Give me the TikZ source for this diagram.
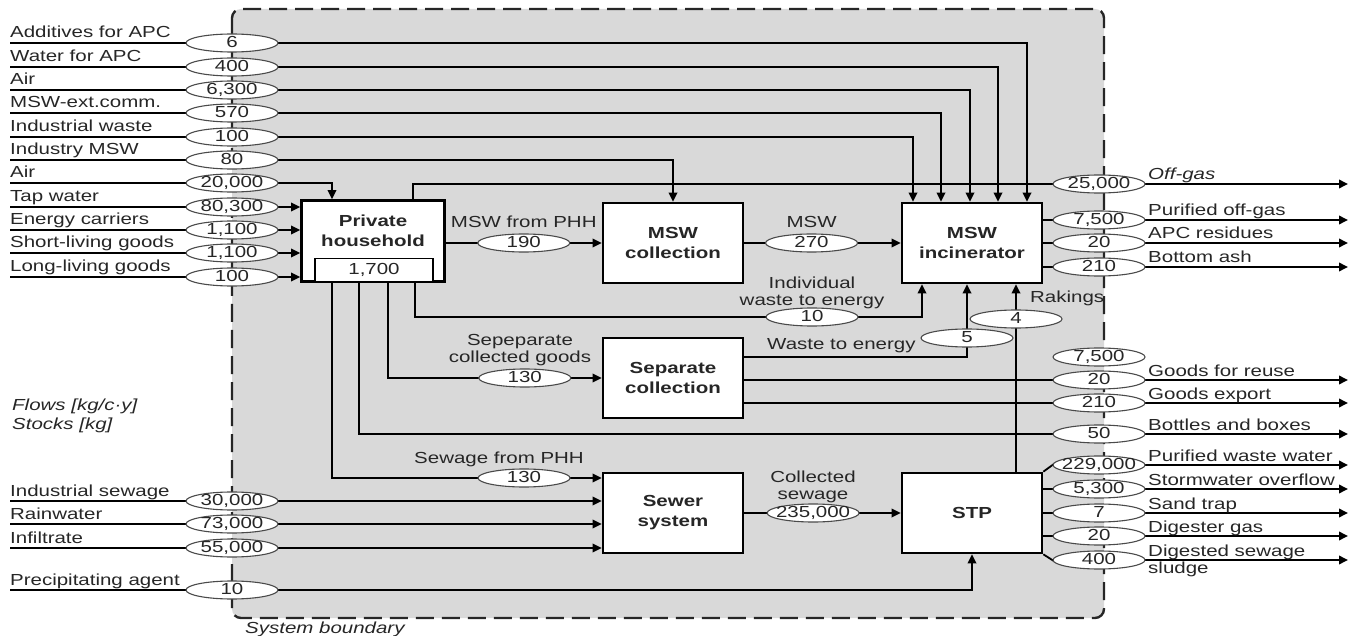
\documentclass[tikz,border=0pt]{standalone}
\usepackage{fontspec}
\setmainfont{Liberation Sans}[FakeStretch=1.28]
\usetikzlibrary{arrows.meta,shapes.geometric}
\definecolor{mfaInk}{HTML}{262626}
\definecolor{mfaFill}{HTML}{D9D9D9}
\definecolor{mfaOval}{HTML}{4A4A4A}
\newcommand{\mfaSize}{\fontsize{16}{17}\selectfont}
\newcommand{\fval}[1]{\makebox[0pt]{#1}}
\tikzset{
  proc/.style={draw=black,line width=2.6pt,fill=white,minimum width=140pt,
               minimum height=80pt,align=center,text=mfaInk,
               font=\fontsize{16}{20}\selectfont\bfseries},
  val/.style={ellipse,draw=mfaOval,line width=1.1pt,fill=white,inner sep=0pt,
              minimum width=92pt,minimum height=18pt,text=mfaInk,
              text height=10pt,text depth=1pt},
  flow/.style={draw=black,line width=1.8pt},
  arr/.style={flow,-{Triangle[length=9pt,width=8.5pt]}},
  lbl/.style={inner sep=0pt,text=mfaInk},
  note/.style={lbl,font=\fontsize{16}{19}\selectfont\itshape},
  boundary/.style={draw=black!85,line width=2.4pt,dash pattern=on 18pt off 8pt,
                   fill=mfaFill,rounded corners=9pt},
}

\begin{document}
\begin{tikzpicture}[x=1pt,y=-1pt,font=\mfaSize]
    \useasboundingbox (0,0) rectangle (1360,636);
    \draw[boundary] (232,9) rectangle (1104,618);

    % processes
    \node[proc,minimum width=143pt,minimum height=81pt] (ph) at (373,241) {};
    \node[lbl,font=\fontsize{16}{20}\selectfont\bfseries,align=center] (phName) at (373,231) {Private\\household};
    \node[draw=black,line width=1.4pt,fill=white,minimum width=118pt,minimum height=23pt,
          inner sep=0pt,text=mfaInk] (phStock) at (374,270) {1,700};
    \node[proc] (msw) at (673,243) {MSW\\collection};
    \node[proc] (sep) at (673,378) {Separate\\collection};
    \node[proc] (sew) at (673,513) {Sewer\\system};
    \node[proc] (inc) at (972,243) {MSW\\incinerator};
    \node[proc] (stp) at (972,513) {STP};

    % where the values sit on the boundary
    \coordinate (bl) at (232,0);
    \coordinate (br) at (1099,0);
    % free ends of the flows
    \coordinate (inAdd)   at (10,43);
    \coordinate (inWat)   at (10,67);
    \coordinate (inAirI)  at (10,90);
    \coordinate (inExt)   at (10,113);
    \coordinate (inIndW)  at (10,137);
    \coordinate (inIndM)  at (10,160);
    \coordinate (inAirH)  at (10,183);
    \coordinate (inTap)   at (10,207);
    \coordinate (inEne)   at (10,230);
    \coordinate (inShort) at (10,253);
    \coordinate (inLong)  at (10,277);
    \coordinate (inIsew)  at (10,501);
    \coordinate (inRain)  at (10,524);
    \coordinate (inInf)   at (10,548);
    \coordinate (inPrec)  at (10,590);
    \coordinate (outOff)  at (1348,184);
    \coordinate (outPur)  at (1348,220);
    \coordinate (outApc)  at (1348,243);
    \coordinate (outAsh)  at (1348,267);
    \coordinate (outReu)  at (1348,380);
    \coordinate (outExp)  at (1348,403);
    \coordinate (outBot)  at (1348,434);
    \coordinate (outPww)  at (1348,465);
    \coordinate (outSto)  at (1348,489);
    \coordinate (outSand) at (1348,513);
    \coordinate (outDig)  at (1348,536);
    \coordinate (outSlu)  at (1348,560);
    % bends
    \coordinate (cIndV) at (812,317);
    \coordinate (cInd)  at (922,317);
    \coordinate (c5)    at (967,338);
    \coordinate (c4)    at (1016,319);

    % imports into the incinerator
    \draw[arr] (inAdd) -- (inAdd -| bl) node[val] (v6) {\fval{6}} -| ([xshift=55pt]inc.north);
    \draw[arr] (inWat) -- (inWat -| bl) node[val] (v400) {\fval{400}} -| ([xshift=26pt]inc.north);
    \draw[arr] (inAirI) -- (inAirI -| bl) node[val] (v6300) {\fval{6,300}} -| ([xshift=-2pt]inc.north);
    \draw[arr] (inExt) -- (inExt -| bl) node[val] (v570) {\fval{570}} -| ([xshift=-31pt]inc.north);
    \draw[arr] (inIndW) -- (inIndW -| bl) node[val] (v100w) {\fval{100}} -| ([xshift=-59pt]inc.north);
    \draw[arr] (inIndM) -- (inIndM -| bl) node[val] (v80) {\fval{80}} -| (msw.north);
    % imports into the household
    \draw[arr] (inAirH) -- (inAirH -| bl) node[val] (v20k) {\fval{20,000}} -| ([xshift=-41pt]ph.north);
    \draw[arr] (inTap) -- (inTap -| bl) node[val] (v80k) {\fval{80,300}} -- (inTap -| ph.west);
    \draw[arr] (inEne) -- (inEne -| bl) node[val] (v1100e) {\fval{1,100}} -- (inEne -| ph.west);
    \draw[arr] (inShort) -- (inShort -| bl) node[val] (v1100s) {\fval{1,100}} -- (inShort -| ph.west);
    \draw[arr] (inLong) -- (inLong -| bl) node[val] (v100l) {\fval{100}} -- (inLong -| ph.west);
    % imports into sewer and STP
    \draw[arr] (inIsew) -- (inIsew -| bl) node[val] (v30k) {\fval{30,000}} -- (inIsew -| sew.west);
    \draw[arr] (inRain) -- (inRain -| bl) node[val] (v73k) {\fval{73,000}} -- (inRain -| sew.west);
    \draw[arr] (inInf) -- (inInf -| bl) node[val] (v55k) {\fval{55,000}} -- (inInf -| sew.west);
    \draw[arr] (inPrec) -- (inPrec -| bl) node[val] (v10p) {\fval{10}} -| (stp.south);

    % household outputs
    \draw[arr] ([xshift=40pt]ph.north) |- (outOff -| br) node[val] (v25k) {\fval{25,000}} -- (outOff);
    \draw[arr] (ph.east |- msw.west) -- node[val] (v190) {\fval{190}}
        node[lbl,yshift=21pt] (tMswPhh) {MSW from PHH} (msw.west);
    \draw[arr] ([xshift=42pt]ph.south) |- (cIndV) node[val] (v10i) {\fval{10}} -- (cInd) -- ([xshift=-50pt]inc.south);
    \draw[arr] ([xshift=15pt]ph.south) |- node[val,pos=0.82] (v130s) {\fval{130}} (sep.west);
    \draw[arr] ([xshift=-14pt]ph.south) |- (outBot -| br) node[val] (v50) {\fval{50}} -- (outBot);
    \draw[arr] ([xshift=-41pt]ph.south) |- node[val,pos=0.856] (v130w) {\fval{130}} ([yshift=35pt]sew.west);

    % collection and incineration
    \draw[arr] (msw.east) -- node[val,pos=0.43] (v270) {\fval{270}}
        node[lbl,pos=0.43,yshift=21pt] (tMsw) {MSW} (inc.west);
    \draw[arr] ([yshift=21pt]sep.east) -| (c5) node[val] (v5) {\fval{5}} -- ([xshift=-5pt]inc.south);
    \draw[arr] ([yshift=-2pt]sep.east) -- (outReu -| br) node[val] (v20g) {\fval{20}} -- (outReu);
    \draw[arr] ([yshift=-25pt]sep.east) -- (outExp -| br) node[val] (v210g) {\fval{210}} -- (outExp);
    \node[val] (v7500s) at (1099,357) {\fval{7,500}};
    \draw[arr] ([xshift=44pt]stp.north) -- (c4) node[val] (v4) {\fval{4}} -- ([xshift=44pt]inc.south);
    \draw[arr] ([yshift=23pt]inc.east) -- (outPur -| br) node[val] (v7500) {\fval{7,500}} -- (outPur);
    \draw[arr] (inc.east) -- (outApc -| br) node[val] (v20a) {\fval{20}} -- (outApc);
    \draw[arr] ([yshift=-24pt]inc.east) -- (outAsh -| br) node[val] (v210a) {\fval{210}} -- (outAsh);

    % sewage treatment
    \draw[arr] (sew.east) -- node[val,pos=0.44] (v235k) {\fval{235,000}} (stp.west);
    \draw[arr] (stp.north east) -- ++(11,-8) -- (outPww -| br) node[val] (v229k) {\fval{229,000}} -- (outPww);
    \draw[arr] ([yshift=24pt]stp.east) -- (outSto -| br) node[val] (v5300) {\fval{5,300}} -- (outSto);
    \draw[arr] (stp.east) -- (outSand -| br) node[val] (v7) {\fval{7}} -- (outSand);
    \draw[arr] ([yshift=-23pt]stp.east) -- (outDig -| br) node[val] (v20d) {\fval{20}} -- (outDig);
    \draw[arr] (stp.south east) -- ++(11,7) -- (outSlu -| br) node[val] (v400s) {\fval{400}} -- (outSlu);

    % flow names, left
    \node[lbl,anchor=base west] (tAdd)   at (10,38)  {Additives for APC};
    \node[lbl,anchor=base west] (tWat)   at (10,62)  {Water for APC};
    \node[lbl,anchor=base west] (tAirI)  at (10,85)  {Air};
    \node[lbl,anchor=base west] (tExt)   at (10,108) {MSW-ext.comm.};
    \node[lbl,anchor=base west] (tIndW)  at (10,132) {Industrial waste};
    \node[lbl,anchor=base west] (tIndM)  at (10,155) {Industry MSW};
    \node[lbl,anchor=base west] (tAirH)  at (10,178) {Air};
    \node[lbl,anchor=base west] (tTap)   at (10,202) {Tap water};
    \node[lbl,anchor=base west] (tEne)   at (10,225) {Energy carriers};
    \node[lbl,anchor=base west] (tShort) at (10,248) {Short-living goods};
    \node[lbl,anchor=base west] (tLong)  at (10,272) {Long-living goods};
    \node[lbl,anchor=base west] (tIsew)  at (10,496) {Industrial sewage};
    \node[lbl,anchor=base west] (tRain)  at (10,519) {Rainwater};
    \node[lbl,anchor=base west] (tInf)   at (10,543) {Infiltrate};
    \node[lbl,anchor=base west] (tPrec)  at (10,585) {Precipitating agent};
    % flow names, right
    \node[note,anchor=base west] (tOff) at (1148,180) {Off-gas};
    \node[lbl,anchor=base west] (tPur)  at (1148,216) {Purified off-gas};
    \node[lbl,anchor=base west] (tApc)  at (1148,239) {APC residues};
    \node[lbl,anchor=base west] (tAsh)  at (1148,263) {Bottom ash};
    \node[lbl,anchor=base west] (tReu)  at (1148,376) {Goods for reuse};
    \node[lbl,anchor=base west] (tExp)  at (1148,399) {Goods export};
    \node[lbl,anchor=base west] (tBot)  at (1148,430) {Bottles and boxes};
    \node[lbl,anchor=base west] (tPww)  at (1148,461) {Purified waste water};
    \node[lbl,anchor=base west] (tSto)  at (1148,485) {Stormwater overflow};
    \node[lbl,anchor=base west] (tSand) at (1148,509) {Sand trap};
    \node[lbl,anchor=base west] (tDig)  at (1148,532) {Digester gas};
    \node[lbl,anchor=north west,align=left] (tSlu) at (1148,544.5) {Digested sewage\\sludge};
    % flow names, inside
    \node[lbl,align=center] (tInd) at (812,293) {Individual\\waste to energy};
    \node[lbl,align=center] (tSepG) at (520,350) {Sepeparate\\collected goods};
    \node[lbl,anchor=base west] (tWte) at (767,349) {Waste to energy};
    \node[lbl,anchor=base west] (tRak) at (1030,303) {Rakings};
    \node[lbl,anchor=base] (tSew) at (499,463) {Sewage from PHH};
    \node[lbl,align=center] (tCol) at (813,487) {Collected\\sewage};
    % legend
    \node[note,align=left,anchor=west] (tUnits) at (12,416) {Flows [kg/c·y]\\Stocks [kg]};
    \node[note,anchor=west] (tBound) at (245,629) {System boundary};
\end{tikzpicture}
\end{document}
